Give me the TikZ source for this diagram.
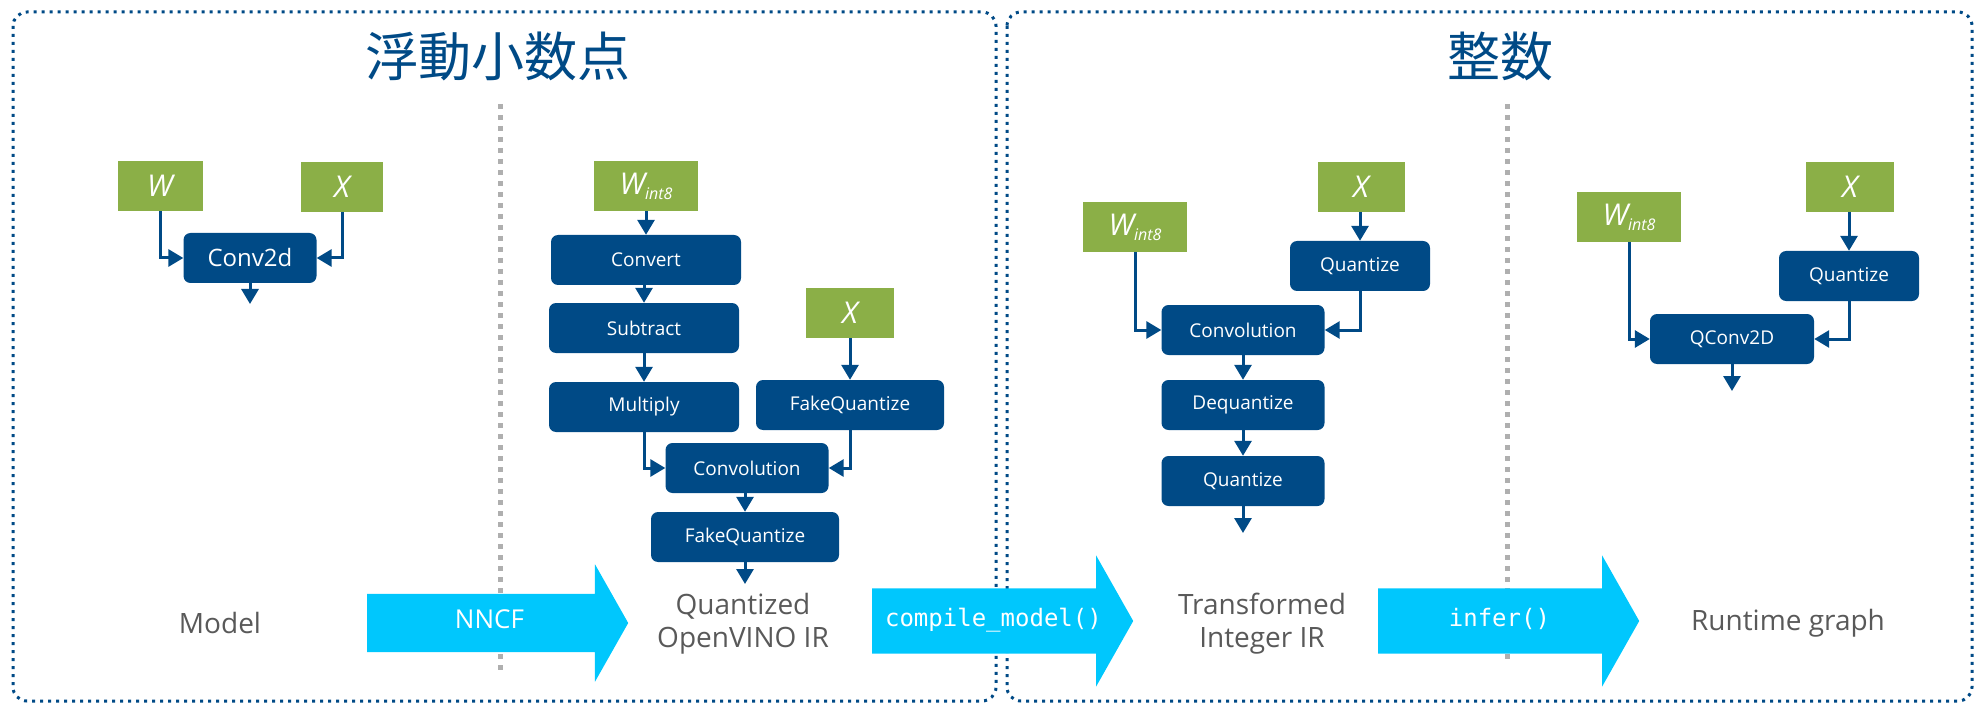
\documentclass[tikz,border=0pt]{standalone}
\usepackage{fontspec}
\setmainfont{Open Sans}
\setmonofont{DejaVu Sans Mono}
\newfontfamily\cjkfont{Noto Sans CJK JP}
\usetikzlibrary{arrows.meta,shapes.arrows}
\definecolor{ovblue}{RGB}{0,74,134}
\definecolor{ovgreen}{RGB}{139,175,71}
\definecolor{ovcyan}{RGB}{0,199,253}
\definecolor{ovgray}{RGB}{89,89,89}
\definecolor{divgray}{RGB}{175,175,175}
\tikzset{
  op/.style={rectangle, rounded corners=7pt, fill=ovblue, text=white, inner sep=0pt,
             minimum height=50pt, align=center, font=\fontsize{19}{22}\selectfont},
  tensor/.style={rectangle, fill=ovgreen, text=white, inner sep=0pt,
                 minimum height=50pt, font=\fontsize{30}{32}\selectfont\itshape},
  flow/.style={-{Triangle[length=15pt,width=17pt]}, line width=3pt, draw=ovblue},
  stage/.style={text=ovgray, align=center, font=\fontsize{28}{33}\selectfont},
  tool/.style={single arrow, fill=ovcyan, text=white, inner xsep=0pt,
               text height=16pt, text depth=5pt,
               single arrow tip angle=121, minimum height=261pt, anchor=tail,
               font=\fontsize{26}{28}\selectfont},
  panel/.style={draw=ovblue, line width=3pt, dash pattern=on 3pt off 5pt,
                rounded corners=14pt},
  divider/.style={draw=divgray, line width=5pt, dash pattern=on 5pt off 6pt},
  title/.style={text=ovblue, font=\cjkfont\fontsize{53}{60}\selectfont}
}
\newcommand{\wint}{W\raisebox{-5pt}{\fontsize{16}{16}\selectfont int8}}

\begin{document}
\begin{tikzpicture}[x=1pt, y=-1pt]
\useasboundingbox (0,0) rectangle (1975,703);
\draw[panel] (13,12) rectangle (996,701);
\draw[panel] (1007,12) rectangle (1972,701);
\draw[divider] (500,104) -- (500,672);
\draw[divider] (1507,104) -- (1507,662);

\node[title] (tfloat) at (498,56) {浮動小数点};
\node[title] (tint) at (1500,56) {整数};

% model
\node[tensor, minimum width=85pt] (w1) at (160,186) {W};
\node[tensor, minimum width=82pt] (x1) at (342,187) {X};
\node[op, minimum width=133pt, font=\fontsize{24}{26}\selectfont] (conv1) at (250,258) {Conv2d};
\coordinate (o1) at (250,304);
\draw[flow] (w1.south) |- (conv1.west);
\draw[flow] (x1.south) |- (conv1.east);
\draw[flow] (conv1.south) -- (o1);

% quantized IR
\node[tensor, minimum width=104pt] (w2) at (646,186) {\wint};
\node[op, minimum width=190pt] (cvt) at (646,260) {Convert};
\node[op, minimum width=190pt] (sub) at (644,328) {Subtract};
\node[op, minimum width=190pt] (mul) at (644,407) {Multiply};
\node[tensor, minimum width=88pt] (x2) at (850,313) {X};
\node[op, minimum width=188pt] (fqx) at (850,405) {FakeQuantize};
\node[op, minimum width=163pt] (conv2) at (747,468) {Convolution};
\node[op, minimum width=188pt] (fqo) at (745,537) {FakeQuantize};
\coordinate (o2) at (745,584);
\draw[flow] (w2) -- (cvt);
\draw[flow] (cvt.south -| sub) -- (sub);
\draw[flow] (sub) -- (mul);
\draw[flow] (x2) -- (fqx);
\draw[flow] (mul.south) |- (conv2.west);
\draw[flow] (fqx.south) |- (conv2.east);
\draw[flow] (conv2.south -| fqo) -- (fqo);
\draw[flow] (fqo.south) -- (o2);

% integer IR
\node[tensor, minimum width=104pt] (w3) at (1135,227) {\wint};
\node[tensor, minimum width=87pt] (x3) at (1361,187) {X};
\node[op, minimum width=140pt] (q3) at (1360,266) {Quantize};
\node[op, minimum width=163pt] (conv3) at (1243,330) {Convolution};
\node[op, minimum width=163pt] (deq3) at (1243,405) {Dequantize};
\node[op, minimum width=163pt] (qo3) at (1243,481) {Quantize};
\coordinate (o3) at (1243,533);
\draw[flow] (x3.south -| q3) -- (q3);
\draw[flow] (w3.south) |- (conv3.west);
\draw[flow] (q3.south) |- (conv3.east);
\draw[flow] (conv3) -- (deq3);
\draw[flow] (deq3) -- (qo3);
\draw[flow] (qo3.south) -- (o3);

% runtime graph
\node[tensor, minimum width=104pt] (w4) at (1629,217) {\wint};
\node[tensor, minimum width=88pt] (x4) at (1850,187) {X};
\node[op, minimum width=140pt] (q4) at (1849,276) {Quantize};
\node[op, minimum width=164pt] (qconv) at (1732,339) {QConv2D};
\coordinate (o4) at (1732,391);
\draw[flow] (x4.south -| q4) -- (q4);
\draw[flow] (w4.south) |- (qconv.west);
\draw[flow] (q4.south) |- (qconv.east);
\draw[flow] (qconv.south) -- (o4);

% stages
\node[stage] (smodel) at (220,623) {Model};
\node[stage] (sqir) at (743,624) {Quantized\\OpenVINO IR};
\node[stage] (stir) at (1262,624) {Transformed\\Integer IR};
\node[stage] (srt) at (1788,623) {Runtime graph};
\node[tool, inner ysep=18.5pt, single arrow head extend=29.5pt] (nncf) at (367,623) {NNCF};
\node[tool, inner ysep=22pt, single arrow head extend=33pt,
      font=\ttfamily\fontsize{24}{26}\selectfont] (compile) at (872,621) {compile\_model()};
\node[tool, inner ysep=22pt, single arrow head extend=33pt,
      font=\ttfamily\fontsize{24}{26}\selectfont] (infer) at (1378,621) {infer()};
\end{tikzpicture}
\end{document}
